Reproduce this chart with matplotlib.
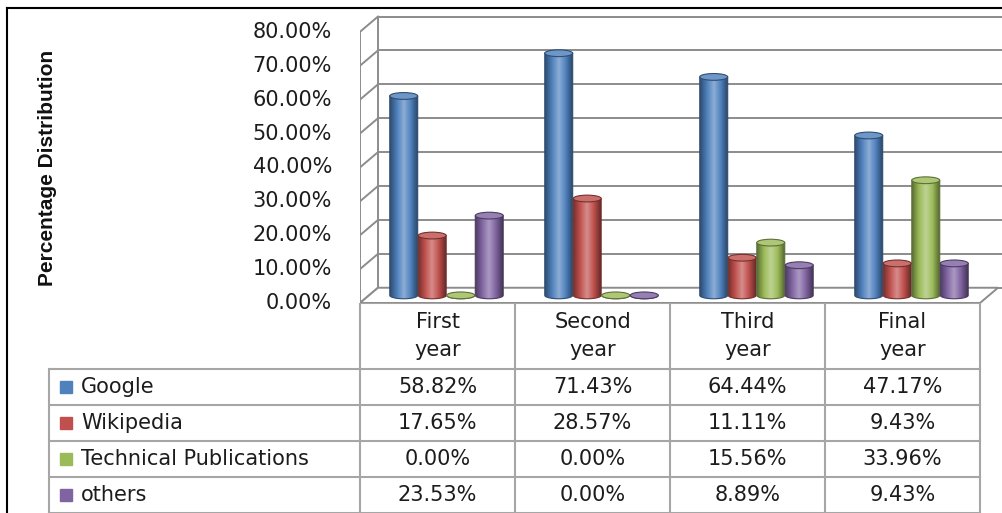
import numpy as np
import matplotlib
matplotlib.use('Agg')
import matplotlib.pyplot as plt
from matplotlib.patches import Ellipse, Polygon, PathPatch
from matplotlib.path import Path
from matplotlib.colors import LinearSegmentedColormap, to_rgb
from matplotlib.lines import Line2D

# data
years = ['First\nyear', 'Second\nyear', 'Third\nyear', 'Final\nyear']
sources = ['Google', 'Wikipedia', 'Technical Publications', 'others']
google = [58.82, 71.43, 64.44, 47.17]
wikipedia = [17.65, 28.57, 11.11, 9.43]
technical = [0.00, 0.00, 15.56, 33.96]
others = [23.53, 0.00, 8.89, 9.43]
yticks = [0, 10, 20, 30, 40, 50, 60, 70, 80]

series = [google, wikipedia, technical, others]
colors = ['#4F81BD', '#C0504D', '#9BBB59', '#8064A2']

W, H = 1002, 513
fig = plt.figure(figsize=(W / 100, H / 100), dpi=100)

# 3d look: depth offsets in data units
dx = 0.116
dy = 4.5
ppu_x = 155.0   # pixels per category
ppu_y = 3.39    # pixels per percent
x0px, y0px = 360, 303

ax = fig.add_axes([x0px / W, (H - y0px) / H, (W - x0px) / W, (y0px - 10) / H])
ax.set_xlim(0, (W - x0px) / ppu_x)
ax.set_ylim(0, (y0px - 10) / ppu_y)
ax.axis('off')

txt = '#1c1c1c'
fs = 15
grid = '#8c8c8c'
# back wall gridlines + side wall
for v in yticks:
    ax.plot([dx, 10], [v + dy, v + dy], color=grid, lw=1.4, zorder=1)
    ax.plot([0, dx], [v, v + dy], color=grid, lw=1.4, zorder=1)
    ax.text(-0.18, v, f'{v:.2f}%', ha='right', va='center', fontsize=fs,
            color=txt, clip_on=False)
ax.plot([0, 0], [0, yticks[-1]], color=grid, lw=1.4, zorder=1)
ax.plot([dx, dx], [dy, yticks[-1] + dy], color=grid, lw=1.4, zorder=1)
# floor
n = len(years)
floor = Polygon([(0, 0), (n, 0), (n + dx, dy), (dx, dy)], closed=True,
                facecolor='white', edgecolor=grid, lw=1.4, zorder=2)
ax.add_patch(floor)


def cylinder(xc, h, w, color, base, cap):
    c = np.array(to_rgb(color))
    dark = c * 0.6
    light = np.clip(c + (1 - c) * 0.35, 0, 1)
    cmap = LinearSegmentedColormap.from_list('cyl', [dark, c, light, c, dark * 0.9])
    xl, xr = xc - w / 2, xc + w / 2
    # body with rounded bottom
    t = np.linspace(np.pi, 2 * np.pi, 30)
    bottom = np.column_stack([xc + w / 2 * np.cos(t), base + cap / 2 * np.sin(t)])
    verts = np.vstack([[[xl, base + h]], bottom, [[xr, base + h]], [[xl, base + h]]])
    body = PathPatch(Path(verts, closed=True), facecolor='none',
                     edgecolor=dark, lw=0.8, zorder=4)
    ax.add_patch(body)
    grad = np.linspace(0, 1, 64).reshape(1, -1)
    im = ax.imshow(grad, cmap=cmap, aspect='auto', zorder=3,
                   extent=(xl, xr, base - cap, base + h), interpolation='bilinear')
    im.set_clip_path(body)
    top = Ellipse((xc, base + h), w, cap, facecolor=c * 0.5 + light * 0.5,
                  edgecolor=dark, lw=0.8, zorder=5)
    ax.add_patch(top)


bw = 0.184
for k, vals in enumerate(series):
    for i, v in enumerate(vals):
        xc = i + 0.5 + dx / 2 + (k - 1.5) * bw
        cylinder(xc, v, bw * 0.98, colors[k], dy / 2, 2.0)

ax.set_xlim(0, (W - x0px) / ppu_x)
ax.set_ylim(0, (y0px - 10) / ppu_y)

fig.text(48 / W, 1 - 168 / H, 'Percentage Distribution', rotation=90,
         ha='center', va='center', fontsize=15, fontweight='bold',
         family=['Liberation Sans', 'DejaVu Sans'], color='#111111')

# data table below the chart
tab = fig.add_axes([0, 0, 1, (H - y0px) / H])
tab.set_xlim(-x0px / ppu_x, (W - x0px) / ppu_x)
hdr = 66 / 36.0
tab.set_ylim(4, -hdr)
tab.axis('off')
tcol = '#a6a6a6'
leg_left = (49 - x0px) / ppu_x
for r in range(len(sources) + 1):
    tab.plot([leg_left, n], [r, r], color=tcol, lw=1.5, clip_on=False)
tab.plot([leg_left, leg_left], [0, 4], color=tcol, lw=1.5)
for c in range(n + 1):
    tab.plot([c, c], [-hdr, 4], color=tcol, lw=1.5)
tab.plot([0, n], [-hdr, -hdr], color=tcol, lw=1.5)

for i, yr in enumerate(years):
    tab.text(i + 0.5, -hdr / 2, yr, ha='center', va='center', fontsize=fs,
             linespacing=1.55, color=txt)
for k, (src, vals) in enumerate(zip(sources, series)):
    tab.plot([(65.5 - x0px) / ppu_x], [k + 0.5], marker='s', markersize=9,
             color=colors[k], linestyle='none')
    tab.text((81 - x0px) / ppu_x, k + 0.5, src, ha='left', va='center',
             fontsize=fs, color=txt)
    for i, v in enumerate(vals):
        tab.text(i + 0.5, k + 0.5, f'{v:.2f}%', ha='center', va='center',
                 fontsize=fs, color=txt)

# outer frame (left and top edges visible)
fig.add_artist(Line2D([7 / W, 7 / W], [0, 1 - 8 / H], color='black', lw=1.5))
fig.add_artist(Line2D([7 / W, 1], [1 - 8 / H, 1 - 8 / H], color='black', lw=1.5))

fig.savefig('out.png', dpi=100)
